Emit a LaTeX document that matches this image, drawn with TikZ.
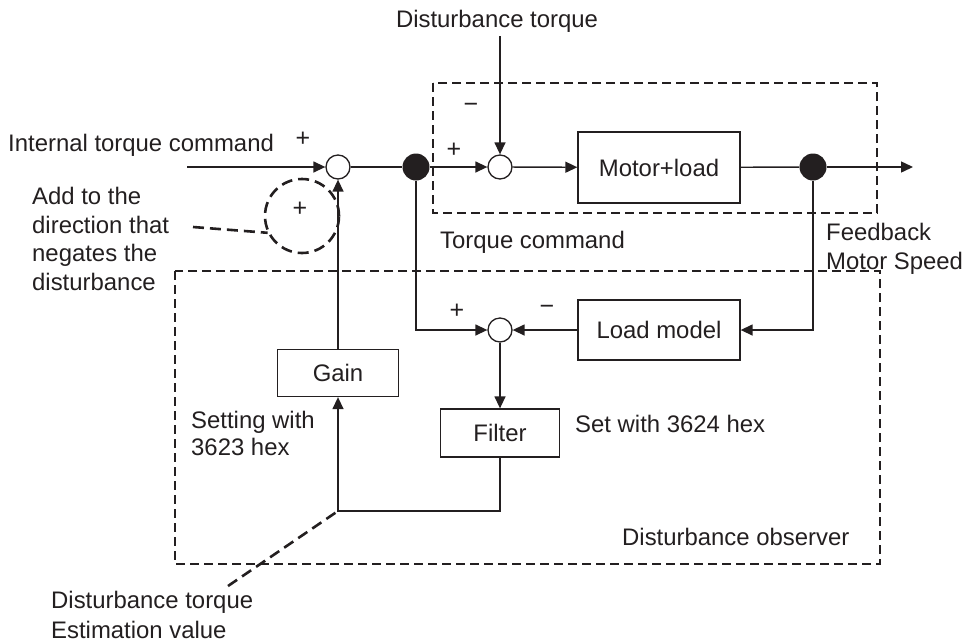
\documentclass[tikz,border=0pt]{standalone}
\usepackage{fontspec}
\setmainfont{Liberation Sans}
\usetikzlibrary{arrows.meta}
\definecolor{ink}{HTML}{231F20}
\begin{document}
\begin{tikzpicture}[x=1pt,y=-1pt,
  every node/.style={font=\fontsize{23.9}{28.5}\selectfont, text=ink},
  wire/.style={draw=ink, line width=1.4pt},
  arr/.style={wire, -{Triangle[length=12pt,width=11pt]}},
  sumnode/.style={circle, draw=ink, line width=1.3pt, minimum size=24pt, inner sep=0pt, fill=white},
  dotnode/.style={circle, fill=ink, minimum size=27pt, inner sep=0pt},
  blk/.style={draw=ink, line width=1.3pt, inner sep=0pt, fill=white},
  grp/.style={draw=ink, line width=1.6pt, dash pattern=on 9pt off 5pt},
  note/.style={draw=ink, line width=2.6pt, dash pattern=on 11pt off 6pt},
  lbl/.style={inner sep=0pt, align=left},
  sign/.style={inner sep=0pt, font=\fontsize{25}{30}\selectfont}
]
\useasboundingbox (0,0) rectangle (965,643);

% group boxes
\draw[grp] (433,83) rectangle (877,213);
\draw[grp] (175,271) rectangle (880,564);

% coordinates
\coordinate (in) at (187,167);
\coordinate (out) at (913,167);
\coordinate (dtop) at (500,36);
\coordinate (loop) at (338,511);
\coordinate (na) at (193,227);
\coordinate (nb) at (228,586);

% blocks
\node[sumnode] (sum1) at (338,167) {};
\node[dotnode] (dot1) at (416,167) {};
\node[sumnode] (sum2) at (500,167) {};
\node[blk, minimum width=162pt, minimum height=71pt] (motor) at (659,167.5) {Motor+load};
\node[dotnode] (dot2) at (813,167) {};
\node[blk, minimum width=162pt, minimum height=60pt] (load) at (659,330) {Load model};
\node[sumnode] (sum3) at (500,330) {};
\node[blk, minimum width=119pt, minimum height=48pt] (filter) at (500,433) {Filter};
\node[blk, minimum width=121pt, minimum height=47pt] (gain) at (338,373) {Gain};
\node[circle, note, minimum size=74pt, inner sep=0pt] (dc) at (302,216) {};

% connectors
\draw[arr] (in) -- (sum1);
\draw[wire] (sum1) -- (dot1);
\draw[arr] (dot1) -- (sum2);
\draw[arr] (dtop) -- (sum2);
\draw[arr] (sum2) -- (motor);
\draw[wire] (motor) -- (dot2);
\draw[arr] (dot2) -- (out);
\draw[arr] (dot2) |- (load.east);
\draw[arr] (dot1) |- (sum3);
\draw[arr] (load) -- (sum3);
\draw[arr] (sum3) -- (filter);
\draw[arr] (filter.south) |- (loop) -- (gain.south);
\draw[arr] (gain) -- (sum1);

% annotation lines
\draw[note] (na) -- (dc.206);
\draw[note] (nb) -- (loop);

% signs
\node[sign] (s1) at (303,139) {+};
\node[sign] (s2) at (300,209) {+};
\node[sign] (s3) at (471,108) {−};
\node[sign] (s4) at (454,150) {+};
\node[sign] (s5) at (457,311) {+};
\node[sign] (s6) at (547,310) {−};

% labels
\node[lbl, anchor=base] (tdist) at (497,27) {Disturbance torque};
\node[lbl, anchor=base west] (tin) at (8,151) {Internal torque command};
\node[lbl, anchor=west] (tadd) at (32,239) {Add to the\\direction that\\negates the\\disturbance};
\node[lbl, anchor=base west] (ttc) at (440,248) {Torque command};
\node[lbl, anchor=west] (tfb) at (826,249) {Feedback\\Motor Speed};
\node[lbl, anchor=north west] (tset) at (191,411) {Setting with\\[-1.5pt]3623 hex};
\node[lbl, anchor=base west] (tset2) at (575,432) {Set with 3624 hex};
\node[lbl, anchor=base west] (tobs) at (622,545) {Disturbance observer};
\node[lbl, anchor=south west] (test) at (51,639) {Disturbance torque\\[2pt]Estimation value};
\end{tikzpicture}
\end{document}
